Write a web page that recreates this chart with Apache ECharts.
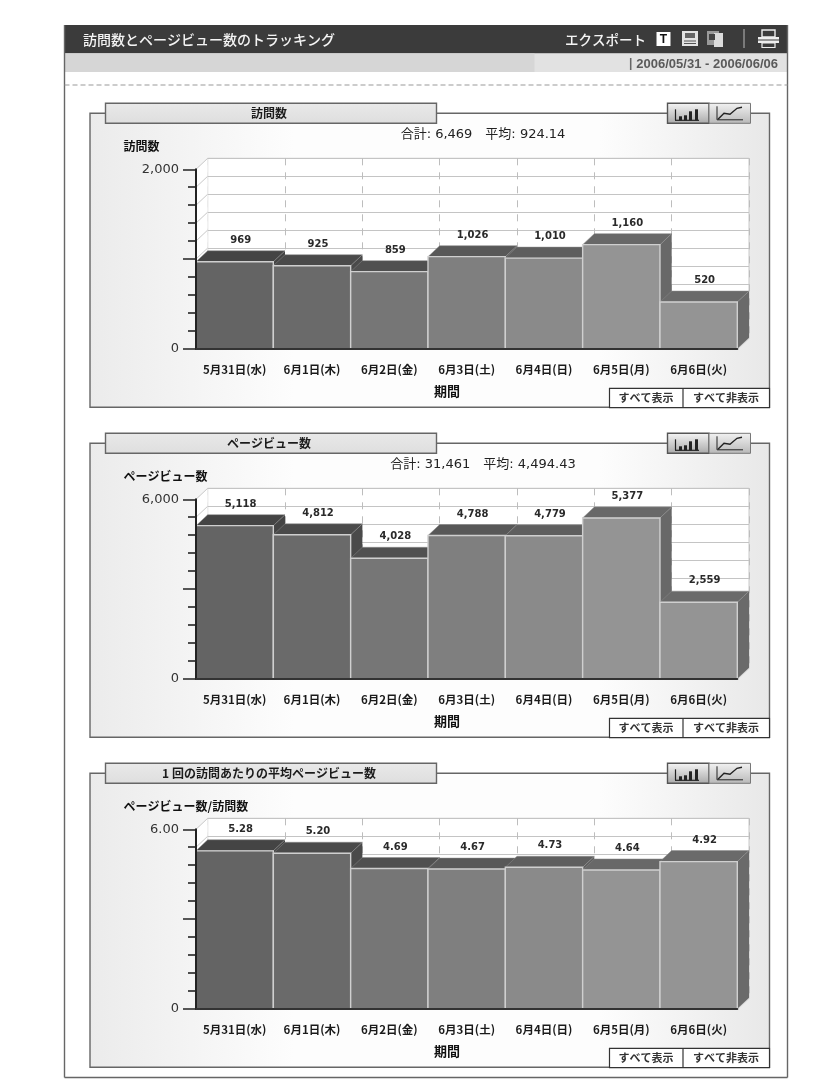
<!DOCTYPE html>
<html><head><meta charset="utf-8">
<style>html,body{margin:0;padding:0;background:#fff}#c{width:830px;height:1091px}</style>
<script src="https://cdn.jsdelivr.net/npm/echarts@6/dist/echarts.min.js"></script>
</head><body><div id="c"></div>
<script>
const categories = ['5月31日(水)','6月1日(木)','6月2日(金)','6月3日(土)','6月4日(日)','6月5日(月)','6月6日(火)'];
const visits = [969,925,859,1026,1010,1160,520];
const pageViews = [5118,4812,4028,4788,4779,5377,2559];
const viewsPerVisit = [5.28,5.20,4.69,4.67,4.73,4.64,4.92];
const panelTitles = ['訪問数','ページビュー数','1 回の訪問あたりの平均ページビュー数'];
const yTitles = ['訪問数','ページビュー数','ページビュー数/訪問数'];
const stats = ['合計: 6,469　平均: 924.14','合計: 31,461　平均: 4,494.43',''];
const yMaxes = [2000,6000,6];
const series3 = [visits,pageViews,viewsPerVisit];
const decimals = [0,0,2];

const frontColors = ['#646464','#6a6a6a','#767676','#7f7f7f','#8a8a8a','#949494','#949494'];
const topColors = ['#444444','#4a4a4a','#505050','#585858','#5e5e5e','#686868','#6a6a6a'];
const DX = 11.7, DY = 11;
const panelTops = [113.3,443.3,773.3], axisTops = [169.3,499.3,829.3];
const plotLeft = 196, plotW = 541.3, plotH = 179.4;
const CJK = '"Noto Sans CJK JP"';
const fmt = (v,d)=>v.toLocaleString('en-US',{minimumFractionDigits:d,maximumFractionDigits:d});

const g = [];
const rect=(x,y,w,h,fill,stroke,lw,z)=>g.push({type:'rect',z:z??5,silent:true,shape:{x,y,width:w,height:h},style:{fill:fill||'none',stroke:stroke||'none',lineWidth:lw||0}});
const line=(x1,y1,x2,y2,stroke,lw,dash,z)=>g.push({type:'line',z:z??5,silent:true,shape:{x1,y1,x2,y2},style:{stroke,lineWidth:lw||1,lineDash:dash||null}});
const poly=(pts,stroke,lw,z)=>g.push({type:'polyline',z:z??5,silent:true,shape:{points:pts},style:{stroke,lineWidth:lw,fill:'none'}});
const txt=(x,y,text,font,fill,align)=>g.push({type:'text',z:6,silent:true,x,y,style:{text,font,fill:fill||'#222',textAlign:align||'center',textVerticalAlign:'middle',align:align||'center',verticalAlign:'middle'}});
const vg=(a,b)=>({type:'linear',x:0,y:0,x2:0,y2:1,colorStops:[{offset:0,color:a},{offset:1,color:b}]});

// page chrome
rect(64.5,25,723,28.5,'#3b3b3b');
rect(64.5,53.5,723,18.5,'#e2e2e2');
rect(64.5,53.5,470,18.5,'#d6d6d6');
line(64.5,25,64.5,1077.5,'#666',1.4);
line(787.5,25,787.5,1077.5,'#666',1.4);
line(64.5,1077.5,787.5,1077.5,'#666',1.4);
line(64.5,85,787.5,85,'#999',1,[5,3]);
txt(83,39.5,'訪問数とページビュー数のトラッキング','500 14px '+CJK,'#f4f4f4','left');
txt(565,39.5,'エクスポート','500 13.5px '+CJK,'#f4f4f4','left');
rect(656.5,32,14,14,'#fff');
txt(663.5,39.3,'T','bold 12px "Liberation Sans"','#111');
rect(682,31,16,15,'#e4e4e4'); rect(685,33,10,5,'#666'); line(684,41,696,41,'#555',1); line(684,43.5,696,43.5,'#555',1);
rect(707,31,12,14,'#9a9a9a'); rect(714,33,9,14,'#dcdcdc'); rect(709,34,6,6,'#444');
line(744,29,744,48,'#bbb',1);
rect(762,30,13,7,'#3b3b3b','#eee',1.4); rect(758,37,21,6,'#eee'); rect(762,43,13,4.5,'#3b3b3b','#eee',1.2); line(758,40,779,40,'#3b3b3b',1);
txt(629,64,'|','bold 12px "Liberation Sans"','#666','left');
txt(778,64,'2006/05/31 - 2006/06/06','bold 13px "Liberation Sans"','#5a5a5a','right');

// panels
panelTops.forEach((t,i)=>{
  const y0 = axisTops[i]+plotH;
  g.push({type:'rect',z:-10,silent:true,shape:{x:90,y:t,width:679.5,height:294},
    style:{stroke:'#666',lineWidth:1.4,fill:{type:'linear',x:0,y:0,x2:1,y2:0,colorStops:[{offset:0,color:'#ebebeb'},{offset:.3,color:'#fdfdfd'},{offset:.75,color:'#fdfdfd'},{offset:1,color:'#e8e8e8'}]}}});
  rect(105.5,t-10,331,20,vg('#e9e9e9','#dedede'),'#666',1.4);
  txt(269,t,panelTitles[i],'bold 12px '+CJK,'#1c1c1c');
  // chart type buttons
  rect(667.5,t-10,41.5,20,vg('#f6f6f6','#a8a8a8'),'#555',1.4);
  rect(709,t-10,41.5,20,vg('#f2f2f2','#b8b8b8'),'#777',1);
  const b=t+7;
  line(675,b,699,b,'#222',1.2); line(675.5,b-11,675.5,b,'#222',1.2);
  [[679,4],[684,5],[689,9],[695,11]].forEach(a=>rect(a[0],b-a[1],3,a[1],'#222'));
  poly([[717,t-7],[717,b-.5],[743,b-.5]],'#222',1);
  poly([[718,b-1],[724,b-7],[730,b-6],[737,b-12],[742,b-13]],'#222',1.4);
  if(stats[i]) txt(483,t+21,stats[i],'13px "DejaVu Sans",'+CJK,'#222');
  txt(123.5,axisTops[i]-22.8,yTitles[i],'bold 12px '+CJK,'#111','left');
  txt(447,y0+42.5,'期間','bold 13px '+CJK,'#111');
  // show / hide all
  rect(609.5,t+275,160,19.3,'#fff','#333',1.2);
  line(683,t+275,683,t+294.3,'#333',1.2);
  txt(646,t+285,'すべて表示','bold 11px '+CJK,'#333');
  txt(726,t+285,'すべて非表示','bold 11px '+CJK,'#333');
});

const grid=[],xAxis=[],yAxis=[],series=[];
axisTops.forEach((top,i)=>{
  const max=yMaxes[i], vals=series3[i], d=decimals[i];
  const fi=2*i, bi=2*i+1;
  grid.push({left:plotLeft,top,width:plotW,height:plotH,z:2});
  grid.push({left:plotLeft+DX,top:top-DY,width:plotW,height:plotH,show:true,backgroundColor:'#fff',borderColor:'#c8c8c8',borderWidth:1,z:1});
  xAxis.push({gridIndex:fi,type:'category',data:categories,boundaryGap:true,z:5,
    axisLine:{onZero:false,lineStyle:{color:'#333',width:2}},
    axisTick:{alignWithLabel:true,length:4,lineStyle:{color:'#333',width:1.5}},
    axisLabel:{interval:0,margin:15.5,fontFamily:CJK,fontWeight:'bold',fontSize:11.5,color:'#1a1a1a'}});
  xAxis.push({gridIndex:bi,type:'category',data:categories,boundaryGap:true,z:1,
    axisLine:{show:false},axisTick:{show:false},axisLabel:{show:false},
    splitLine:{show:true,interval:0,lineStyle:{color:'#bdbdbd',type:[7,7],width:1}}});
  yAxis.push({gridIndex:fi,type:'value',min:0,max,interval:max/2,z:5,
    axisLine:{show:true,onZero:false,lineStyle:{color:'#222',width:2}},
    axisTick:{show:true,length:13,lineStyle:{color:'#222',width:1.5}},
    minorTick:{show:true,splitNumber:5,length:8,lineStyle:{color:'#222',width:1.6}},
    splitLine:{show:false},
    axisLabel:{margin:17,fontFamily:'DejaVu Sans',fontSize:13,color:'#333',
      formatter:v=>v===0?'0':(v===max?fmt(v,d):'')}});
  yAxis.push({gridIndex:bi,type:'value',min:0,max,interval:max/10,z:1,
    axisLine:{show:false},axisTick:{show:false},axisLabel:{show:false},
    splitLine:{show:true,lineStyle:{color:'#c4c4c4',width:1.2}}});
  // left wall diagonals
  const ticks=[0,1,2,3,4,5,6,7,8,9,10].map(k=>[0,k*max/10]);
  series.push({type:'custom',xAxisIndex:fi,yAxisIndex:fi,clip:false,z:2,silent:true,data:ticks,
    encode:{x:0,y:1},
    renderItem:(p,api)=>{
      const c=api.coord([0,api.value(1)]), w=api.size([1,0])[0], x=c[0]-w/2;
      const kids=[{type:'line',shape:{x1:x,y1:c[1],x2:x+DX,y2:c[1]-DY},style:{stroke:'#c8c8c8',lineWidth:1},z2:2}];
      if(p.dataIndex===0){
        const m=api.coord([0,max]);
        kids.push({type:'polygon',shape:{points:[[x,c[1]],[x+DX,c[1]-DY],[x+DX,m[1]-DY],[x,m[1]]]},style:{fill:'#fff'},z2:1});
      }
      return {type:'group',children:kids};
    }});
  // 3D bars
  series.push({type:'custom',xAxisIndex:fi,yAxisIndex:fi,clip:false,z:3,silent:true,
    data:vals.map((v,k)=>[k,v]),encode:{x:0,y:1},
    renderItem:(p,api)=>{
      const k=p.dataIndex, t=api.coord([k,api.value(1)]), b=api.coord([k,0]), w=api.size([1,0])[0];
      const x=t[0]-w/2, y=t[1], by=b[1], fc=frontColors[k], tc=topColors[k];
      return {type:'group',children:[
        {type:'line',z2:k*3,shape:{x1:x+w,y1:by,x2:x+w+DX,y2:by-DY},style:{stroke:'#d8d8d8',lineWidth:2}},
        {type:'polygon',z2:k*3,shape:{points:[[x+w,y],[x+w+DX,y-DY],[x+w+DX,by-DY],[x+w,by]]},style:{fill:tc}},
        {type:'polygon',z2:k*3+1,shape:{points:[[x,y],[x+DX,y-DY],[x+w+DX,y-DY],[x+w,y]]},style:{fill:tc,stroke:'#8a8a8a',lineWidth:.5}},
        {type:'rect',z2:k*3+2,shape:{x,y,width:w,height:by-y},style:{fill:fc,stroke:'#cfcfcf',lineWidth:1.4}}
      ]};
    }});
  // value labels
  series.push({type:'custom',xAxisIndex:fi,yAxisIndex:fi,clip:false,z:4,silent:true,
    data:vals.map((v,k)=>[k,v]),encode:{x:0,y:1},
    renderItem:(p,api)=>{
      const t=api.coord([p.dataIndex,api.value(1)]);
      return {type:'text',x:t[0]+6,y:t[1]-DY-10.5,style:{text:fmt(api.value(1),d),font:'bold 10px "DejaVu Sans"',fill:'#2a2a2a',textAlign:'center',textVerticalAlign:'middle',align:'center',verticalAlign:'middle'}};
    }});
});

const chart=echarts.init(document.getElementById('c'),null,{width:830,height:1091,renderer:'canvas'});
chart.setOption({animation:false,backgroundColor:'#fff',graphic:{elements:g},grid,xAxis,yAxis,series});
</script></body></html>
